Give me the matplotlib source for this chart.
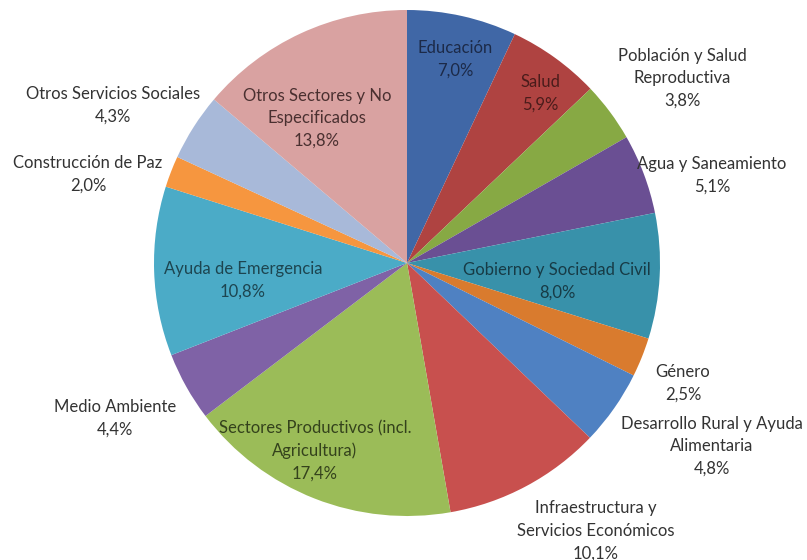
import matplotlib.pyplot as plt

plt.rcParams['font.family'] = ['Lato', 'DejaVu Sans']

sectores = ['Educación', 'Salud', 'Población y Salud\nReproductiva', 'Agua y Saneamiento',
            'Gobierno y Sociedad Civil', 'Género', 'Desarrollo Rural y Ayuda\nAlimentaria',
            'Infraestructura y\nServicios Económicos', 'Sectores Productivos (incl.\nAgricultura)',
            'Medio Ambiente', 'Ayuda de Emergencia', 'Construcción de Paz',
            'Otros Servicios Sociales', 'Otros Sectores y No\nEspecificados']
porcentajes = [7.0, 5.9, 3.8, 5.1, 8.0, 2.5, 4.8, 10.1, 17.4, 4.4, 10.8, 2.0, 4.3, 13.8]

colores = ['#4067A6', '#AF4341', '#87A944', '#6A4F93', '#3891AA', '#D97B2E', '#4F81C2',
           '#C8504E', '#9BBC58', '#7F62A6', '#4BABC7', '#F6963F', '#A8B9D9', '#D9A2A1']

# label centre positions in pixels (x, y from top) and text colour
pos_etiq = [(455, 59), (540, 93), (682, 78), (712, 175), (557, 281), (683, 383), (712, 446),
            (596, 531), (315, 451), (115, 418), (243, 280), (88, 174), (113, 105), (317, 118)]
col_texto = ['#1c2a48', '#4a1c1b', '#333333', '#333333', '#173b46', '#333333', '#333333',
             '#333333', '#34421c', '#333333', '#1d4550', '#333333', '#333333', '#4a3030']

W, H = 807, 560
fig = plt.figure(figsize=(W / 100, H / 100), dpi=100)
ax = fig.add_axes([0, 0, 1, 1])

ax.pie(porcentajes, colors=colores, startangle=90, counterclock=False,
       center=(407, H - 263), radius=253, frame=True,
       wedgeprops=dict(linewidth=0))

for nombre, val, (x, y), c in zip(sectores, porcentajes, pos_etiq, col_texto):
    txt = nombre + '\n' + ('%.1f%%' % val).replace('.', ',')
    ax.text(x, H - y, txt, ha='center', va='center', fontsize=12,
            color=c, linespacing=1.5)

ax.set_xlim(0, W)
ax.set_ylim(0, H)
ax.set_aspect('equal')
ax.axis('off')

plt.savefig('out.png', dpi=100, facecolor='white')
plt.close()
